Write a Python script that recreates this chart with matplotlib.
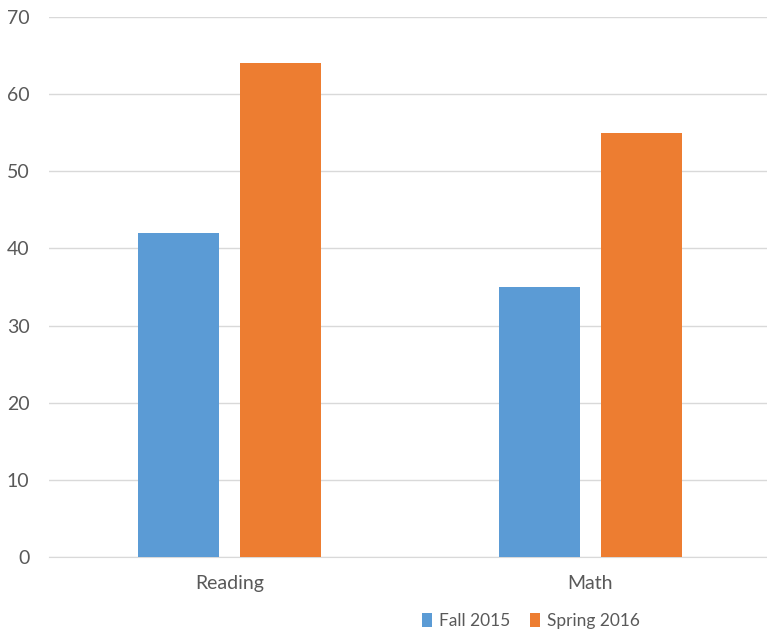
import matplotlib.pyplot as plt
import numpy as np

plt.rcParams['font.family'] = ['Lato', 'DejaVu Sans']

categories = ['Reading', 'Math']
fall_2015 = [42, 35]
spring_2016 = [64, 55]
series_names = ['Fall 2015', 'Spring 2016']

blue = '#5B9BD5'
orange = '#ED7D31'
grey_text = '#595959'

fig = plt.figure(figsize=(7.67, 6.33), dpi=100)
ax = fig.add_axes([49 / 767, 76 / 633, 718 / 767, 540 / 633])

x = np.arange(len(categories))
width = 0.224
offset = 0.142
ax.bar(x - offset, fall_2015, width, color=blue, label=series_names[0], zorder=3)
ax.bar(x + offset, spring_2016, width, color=orange, label=series_names[1], zorder=3)

ax.set_ylim(0, 70)
ax.set_xlim(-0.5, 1.489)
ax.set_yticks(range(0, 71, 10))
ax.set_xticks(x)
ax.set_xticklabels(categories)

ax.grid(axis='y', color='#D9D9D9', linewidth=1, zorder=0)
for side in ['top', 'right', 'left']:
    ax.spines[side].set_visible(False)
ax.spines['bottom'].set_color('#D9D9D9')
ax.tick_params(axis='both', length=0, colors=grey_text, labelsize=14)
ax.tick_params(axis='y', pad=14)
ax.tick_params(axis='x', pad=13)

fig.legend(loc='center', bbox_to_anchor=(531 / 767, 12 / 633), ncol=2, frameon=False,
           fontsize=12.5, handlelength=0.6, handleheight=0.8, handletextpad=0.4,
           columnspacing=1.1, labelcolor=grey_text)

fig.savefig('out.png', dpi=100)
